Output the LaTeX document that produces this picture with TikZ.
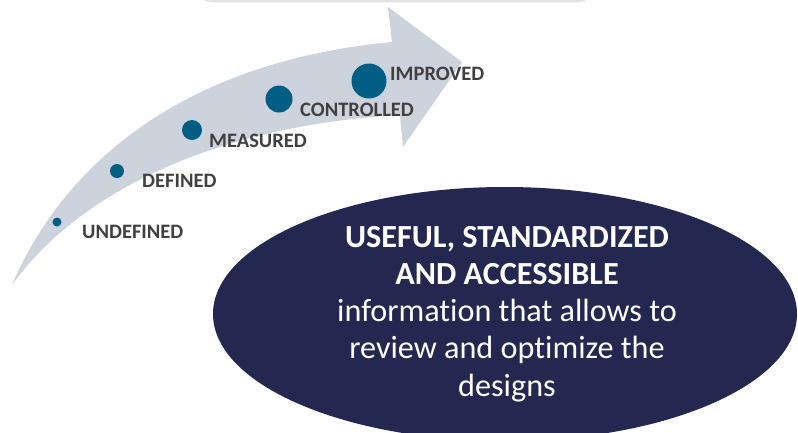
\documentclass[tikz,border=0pt]{standalone}
\usepackage{fontspec}
\setmainfont{Carlito}[Ligatures={NoCommon}]
\usetikzlibrary{shapes.geometric}
\definecolor{arrowgray}{HTML}{CDD3DC}
\definecolor{dotblue}{HTML}{005E84}
\definecolor{labelgray}{HTML}{404040}
\definecolor{navyfill}{HTML}{242850}
\definecolor{framegray}{HTML}{E2E2E2}
\tikzset{
  stagedot/.style={circle, fill=dotblue, inner sep=0pt},
  stagelabel/.style={anchor=west, inner sep=0pt, text=labelgray, font=\fontsize{20.5}{24}\selectfont\bfseries},
  infoellipse/.style={ellipse, fill=navyfill, inner sep=0pt, minimum width=584pt, minimum height=254pt},
  infotext/.style={text=white, align=center, inner sep=0pt, font=\fontsize{32.2}{37.2}\selectfont}
}
\begin{document}
\begin{tikzpicture}[x=1pt,y=-1pt]
\useasboundingbox (0,0) rectangle (798,432);
\clip (0,0) rectangle (798,432);
\fill[white] (0,0) rectangle (798,432);
% frame above (cut off)
\draw[framegray, line width=2.5pt, fill=white, rounded corners=14pt] (198,-60) rectangle (592,1);
% curved arrow
\fill[arrowgray] (12,285) .. controls (70,150) and (200,60) .. (392,42)
  -- (388,7) -- (462,62) -- (403,147) -- (400,115)
  .. controls (220,125) and (80,190) .. (12,285) -- cycle;
% stage dots
\node[stagedot, minimum size=9pt]  (d1) at (57,222) {};
\node[stagedot, minimum size=14pt] (d2) at (117,171) {};
\node[stagedot, minimum size=20pt] (d3) at (192,130) {};
\node[stagedot, minimum size=27pt] (d4) at (279,99) {};
\node[stagedot, minimum size=35pt] (d5) at (369,81) {};
% stage labels
\node[stagelabel] (l1) at (82,232) {UNDEFINED};
\node[stagelabel] (l2) at (142,181) {DEFINED};
\node[stagelabel] (l3) at (209,141) {MEASURED};
\node[stagelabel] (l4) at (300,110) {CONTROLLED};
\node[stagelabel] (l5) at (390,74) {IMPROVED};
% ellipse
\node[infoellipse] (ell) at (505,314) {};
\node[infotext] (info) at (507,314) {\textbf{USEFUL, STANDARDIZED}\\\textbf{AND ACCESSIBLE}\\information that allows to\\review and optimize the\\designs};
\end{tikzpicture}
\end{document}
